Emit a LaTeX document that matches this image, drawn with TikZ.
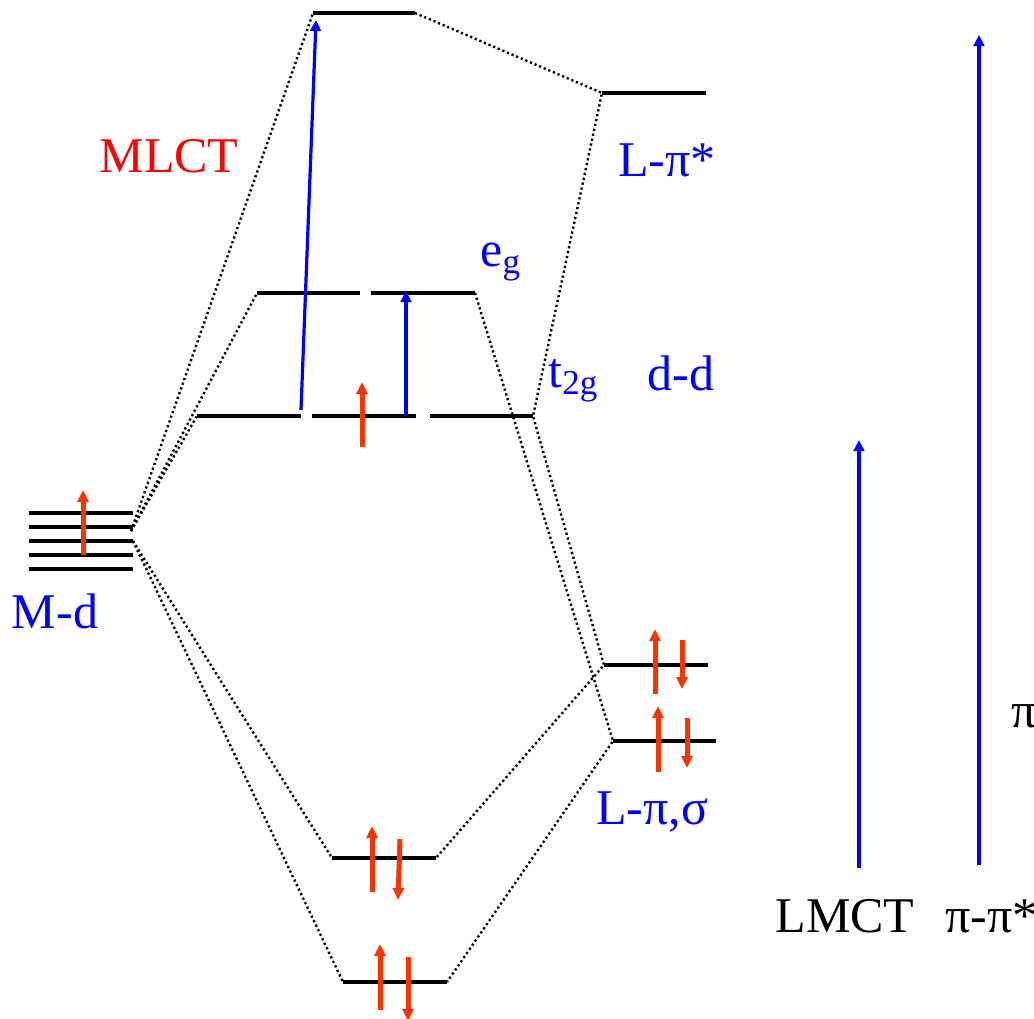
\documentclass[tikz,border=0pt]{standalone}
\usepackage{fontspec}
\setmainfont{Liberation Serif}
\newfontfamily\labfont{Liberation Serif}
\usetikzlibrary{arrows.meta}
\definecolor{spinred}{RGB}{255,51,0}
\tikzset{ level/.style={line width=2.4pt},
  corr/.style={line width=1.2pt,dash pattern=on 1.1pt off 1.4pt},
  spin/.style={spinred,line width=2.5pt,-{Triangle[width=5.5pt,length=6pt]}},
  trans/.style={blue,line width=1.6pt,-{Triangle[width=5.3pt,length=5.5pt]}},
  lbl/.style={anchor=base,inner sep=0pt,font=\labfont\fontsize{25}{30}\selectfont} }

\begin{document}
\begin{tikzpicture}[x=0.5pt,y=-0.5pt]
  \useasboundingbox (0,0) rectangle (1034,1018);
  % metal d levels
  \foreach \y in {513,527,541,555,569} \draw[level] (29,\y) -- (133,\y);
  \coordinate (md-up) at (131,531);
  \coordinate (md-dn) at (133,541);
  % complex levels
  \coordinate (top-l) at (313,13);  \coordinate (top-r) at (415,13);
  \coordinate (eg-l) at (257,293);  \coordinate (eg-r) at (475,293);
  \coordinate (t2g-l) at (197,416); \coordinate (t2g-r) at (533,416);
  \coordinate (bot1-l) at (332,858); \coordinate (bot1-r) at (436,858);
  \coordinate (bot2-l) at (343,982); \coordinate (bot2-r) at (447,982);
  % ligand levels
  \coordinate (lpis-l) at (602,93);  \coordinate (lpis-r) at (706,93);
  \coordinate (lig1-l) at (604,665); \coordinate (lig1-r) at (708,665);
  \coordinate (lig2-l) at (613,741); \coordinate (lig2-r) at (716,741);
  \draw[level] (top-l) -- (top-r);
  \draw[level] (eg-l) -- (360,293) (371,293) -- (eg-r);
  \draw[level] (t2g-l) -- (301,416) (312,416) -- (416,416) (430,416) -- (t2g-r);
  \draw[level] (bot1-l) -- (bot1-r);
  \draw[level] (bot2-l) -- (bot2-r);
  \draw[level] (lpis-l) -- (lpis-r);
  \draw[level] (lig1-l) -- (lig1-r);
  \draw[level] (lig2-l) -- (lig2-r);
  % correlation lines
  \draw[corr] (md-up) -- (top-l);
  \draw[corr] (md-up) -- (eg-l);
  \draw[corr] (md-up) -- (t2g-l);
  \draw[corr] (md-dn) -- (bot1-l);
  \draw[corr] (md-dn) -- (bot2-l);
  \draw[corr] (top-r) -- (lpis-l) -- (t2g-r) -- (lig1-l) -- (bot1-r);
  \draw[corr] (eg-r) -- (lig2-l) -- (bot2-r);
  % electrons
  \draw[spin] (83,555) -- (83,490);
  \draw[spin] (362,447) -- (362,382);
  \draw[spin] (655,694) -- (655,629);
  \draw[spin] (682,640) -- (682,689);
  \draw[spin] (658,772) -- (658,706);
  \draw[spin] (687,718) -- (687,768);
  \draw[spin] (372,892) -- (372,826);
  \draw[spin] (400,839) -- (398,900);
  \draw[spin] (380,1010) -- (380,944);
  \draw[spin] (408,957) -- (408,1021);
  % transitions
  \draw[trans] (301,410) -- (316,20);
  \draw[trans] (406,416) -- (406,291);
  \draw[trans] (859,868) -- (859,440);
  \draw[trans] (979,865) -- (979,35);
  % labels
  \node[lbl,blue] (mdlab) at (55,628) {M-d};
  \node[lbl,red] (mlct) at (169,172) {MLCT};
  \node[lbl,blue] (lpislab) at (667,176) {L-π*};
  \node[lbl,blue,anchor=base west] (eglab) at (480,266) {e\textsubscript{g}};
  \node[lbl,blue,anchor=base west] (t2glab) at (548,387) {t\textsubscript{2g}};
  \node[lbl,blue] (dd) at (681,390) {d-d};
  \node[lbl,blue] (liglab) at (652,824) {L-π,σ};
  \node[lbl] (lmct) at (845,932) {LMCT};
  \node[lbl,anchor=base west] (pipi) at (945,932) {π-π*};
  \node[lbl,anchor=base west] (pi) at (1011,727) {π};
\end{tikzpicture}
\end{document}
